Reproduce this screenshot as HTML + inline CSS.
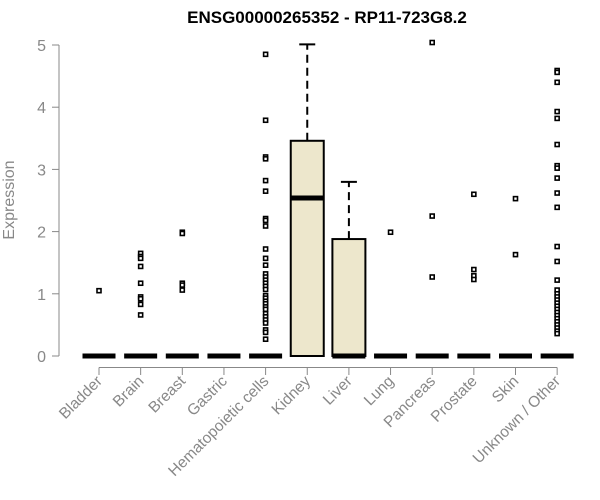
<!DOCTYPE html>
<html><head><meta charset="utf-8"><style>
body{margin:0;background:#fff}
svg{display:block;font-family:"Liberation Sans",Arial,sans-serif}
</style></head><body>
<svg id="chart" width="600" height="500" viewBox="0 0 600 500">
<text x="327" y="23" text-anchor="middle" font-size="17" font-weight="bold">ENSG00000265352 - RP11-723G8.2</text>
<text transform="translate(14,200) rotate(-90)" text-anchor="middle" font-size="16" fill="#888">Expression</text>
<g id="yaxis"></g>
<g id="xaxis"></g>
<g id="plot"></g>
</svg>
<script>
const categories=["Bladder","Brain","Breast","Gastric","Hematopoietic cells","Kidney","Liver","Lung","Pancreas","Prostate","Skin","Unknown / Other"];
const q1=[0,0,0,0,0,0,0,0,0,0,0,0];
const medians=[0,0,0,0,0,2.54,0,0,0,0,0,0];
const q3=[0,0,0,0,0,3.46,1.88,0,0,0,0,0];
const whiskerHigh=[0,0,0,0,0,5.01,2.80,0,0,0,0,0];
const outliers=[
[1.05],
[1.65,1.60,1.57,1.44,1.17,0.95,0.92,0.83,0.66],
[1.99,1.97,1.17,1.14,1.06],
[],
[4.85,3.79,3.20,3.17,2.82,2.65,2.21,2.18,2.09,1.72,1.57,1.46,1.32,1.27,1.22,1.17,1.12,1.07,0.97,0.93,0.88,0.84,0.79,0.75,0.68,0.63,0.58,0.53,0.42,0.38,0.27],
[],
[],
[1.99],
[5.04,2.25,1.27],
[2.60,1.39,1.29,1.23],
[2.53,1.63],
[4.59,4.56,4.40,3.93,3.82,3.40,3.06,3.02,2.86,2.62,2.39,1.76,1.52,1.22,1.06,1.0,0.95,0.9,0.85,0.8,0.75,0.7,0.65,0.6,0.55,0.5,0.45,0.4,0.36]
];
const yTicks=[0,1,2,3,4,5];
const NS="http://www.w3.org/2000/svg";
const y=v=>356-v*62.2;
const x=i=>99+i*41.65;
const bw=33;
function mk(tag,attrs,parent){const e=document.createElementNS(NS,tag);for(const k in attrs)e.setAttribute(k,attrs[k]);parent.appendChild(e);return e;}
const ya=document.getElementById('yaxis'),xa=document.getElementById('xaxis'),pl=document.getElementById('plot');
let l=mk('line',{x1:59,x2:59,y1:y(0),y2:y(5),stroke:'#888'},ya);


yTicks.forEach(t=>{
  const tk=mk('line',{x1:52,x2:59,y1:y(t),y2:y(t),stroke:'#888'},ya);
  
  
  const tx=mk('text',{x:46,y:y(t)+6,'text-anchor':'end','font-size':16,fill:'#888'},ya);
  tx.textContent=t;
  
  
});
l=mk('line',{x1:x(0),x2:x(11),y1:367.5,y2:367.5,stroke:'#888'},xa);


categories.forEach((c,i)=>{
  const tk=mk('line',{x1:x(i),x2:x(i),y1:367.5,y2:375,stroke:'#888'},xa);
  
  
  const tx=mk('text',{transform:`translate(${x(i)+4},382) rotate(-45)`,'text-anchor':'end','font-size':15.5,fill:'#888'},xa);
  tx.textContent=c;
  
  
  const cx=x(i);
  const g=mk('g',{},pl);
  
  
  if(whiskerHigh[i]>q3[i]){
    const wl=mk('line',{x1:cx,x2:cx,y1:y(q3[i]),y2:y(whiskerHigh[i]),stroke:'#000','stroke-width':2,'stroke-dasharray':'8,5'},g);
    
    
    const cap=mk('line',{x1:cx-8,x2:cx+8,y1:y(whiskerHigh[i]),y2:y(whiskerHigh[i]),stroke:'#000','stroke-width':2},g);
    
    
  }
  if(q3[i]>q1[i]){
    const r=mk('rect',{x:cx-bw/2,y:y(q3[i]),width:bw,height:y(q1[i])-y(q3[i]),fill:'#ede7cc',stroke:'#000','stroke-width':2},g);
    
    
  }
  const m=mk('line',{x1:cx-bw/2,x2:cx+bw/2,y1:y(medians[i]),y2:y(medians[i]),stroke:'#000','stroke-width':5},g);
  
  
  outliers[i].forEach(v=>{
    const p=mk('rect',{x:cx-2,y:y(v)-2,width:4,height:4,fill:'#fff',stroke:'#000','stroke-width':1.6},g);
    
    
  });
});
</script>
</body></html>
